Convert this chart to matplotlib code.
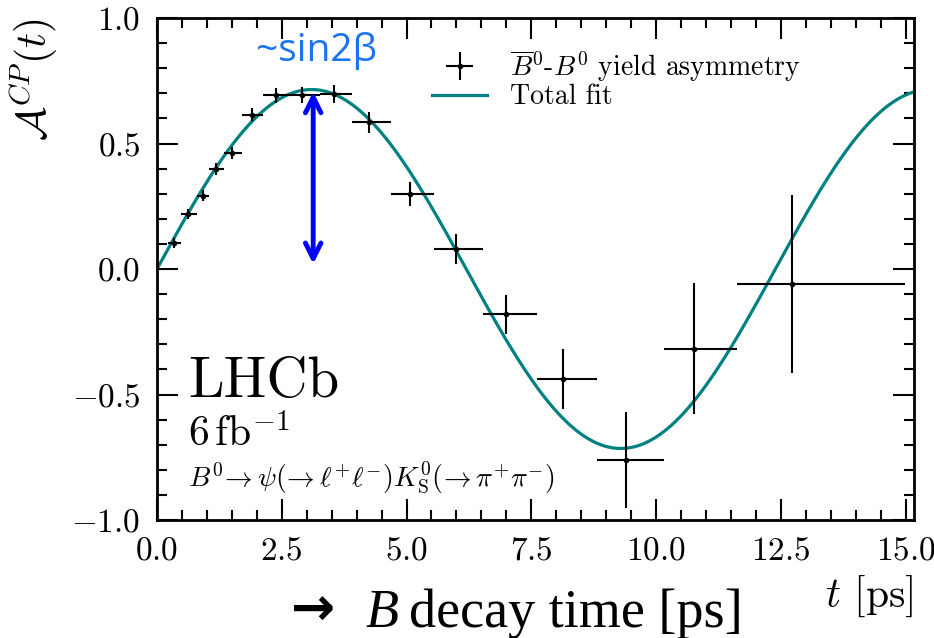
import numpy as np
import matplotlib
matplotlib.use("Agg")
import matplotlib.pyplot as plt
from matplotlib.ticker import MultipleLocator, FormatStrFormatter

# bin centres, bin edges and yield asymmetry
t_mean = [0.35, 0.63, 0.93, 1.18, 1.51, 1.91, 2.38, 2.91, 3.55, 4.25,
          5.07, 5.99, 6.99, 8.14, 9.40, 10.76, 12.73]
t_lo = [0.23, 0.48, 0.80, 1.04, 1.34, 1.70, 2.13, 2.63, 3.27, 3.90,
        4.68, 5.55, 6.53, 7.62, 8.82, 10.16, 11.63]
t_hi = [0.48, 0.80, 1.04, 1.34, 1.70, 2.13, 2.63, 3.27, 3.90, 4.68,
        5.55, 6.53, 7.62, 8.82, 10.16, 11.63, 14.98]
asym = [0.103, 0.218, 0.291, 0.400, 0.463, 0.615, 0.692, 0.694, 0.697, 0.585,
        0.298, 0.079, -0.181, -0.437, -0.761, -0.317, -0.060]
asym_err = [0.020, 0.020, 0.022, 0.024, 0.025, 0.027, 0.030, 0.033, 0.037, 0.042,
            0.047, 0.060, 0.078, 0.120, 0.190, 0.260, 0.355]

# total fit: S * sin(dm * t)
S_FIT = 0.715
DM_FIT = 0.507

plt.rcParams["font.family"] = "serif"
plt.rcParams["font.serif"] = ["cmr10", "DejaVu Serif"]
plt.rcParams["mathtext.fontset"] = "cm"
plt.rcParams["axes.unicode_minus"] = False

fig = plt.figure(figsize=(9.34, 6.38), dpi=100)
ax = fig.add_axes([157/934, 1-520/638, 757/934, 502/638])

tt = np.linspace(0, 15.17, 600)
fit_line, = ax.plot(tt, S_FIT*np.sin(DM_FIT*tt), color="#008080", lw=2.3, zorder=2)

t_mean = np.array(t_mean)
xerr = [t_mean - np.array(t_lo), np.array(t_hi) - t_mean]
data = ax.errorbar(t_mean, asym, xerr=xerr, yerr=asym_err, fmt="o", ms=3.0, color="black",
                   elinewidth=1.5, capsize=0, zorder=3)

ax.set_xlim(0, 15.17)
ax.set_ylim(-1, 1)
ax.xaxis.set_major_locator(MultipleLocator(2.5))
ax.xaxis.set_minor_locator(MultipleLocator(0.5))
ax.yaxis.set_major_locator(MultipleLocator(0.5))
ax.yaxis.set_minor_locator(MultipleLocator(0.1))
ax.xaxis.set_major_formatter(FormatStrFormatter("$%.1f$"))
ax.yaxis.set_major_formatter(FormatStrFormatter("$%.1f$"))
ax.tick_params(which="both", direction="in", top=True, right=True, labelsize=24, width=1.5)
ax.tick_params(which="major", length=15, pad=12)
ax.tick_params(which="minor", length=7)
for sp in ax.spines.values():
    sp.set_linewidth(2)

ax.set_xlabel(r"$t$ [ps]", fontsize=30, loc="right", labelpad=6)
ax.set_ylabel(r"$\mathcal{A}^{CP}(t)$", fontsize=30, loc="top")
ax.yaxis.set_label_coords(-0.128, 1.0)

ax.legend([data, fit_line], [r"$\overline{B}^0$-$B^0$ yield asymmetry", "Total fit"],
          loc="upper left", bbox_to_anchor=(0.363, 0.94), frameon=False, fontsize=20,
          labelspacing=0.0, handlelength=2.0, handletextpad=0.8, borderpad=0, borderaxespad=0)

ax.text(0.041, 0.245, "LHCb", transform=ax.transAxes, fontsize=41, va="baseline")
ax.text(0.041, 0.147, r"$6\,\mathrm{fb}^{-1}$", transform=ax.transAxes, fontsize=30, va="baseline")
ax.text(0.041, 0.066,
        r"$B^{0}\!\rightarrow\psi(\!\rightarrow\ell^{+}\ell^{-})K^{0}_\mathrm{S}(\!\rightarrow\pi^{+}\pi^{-})$",
        transform=ax.transAxes, fontsize=20, va="baseline")

# sin2beta annotation
ax.annotate("", xy=(3.13, 0.706), xytext=(3.13, 0.02),
            arrowprops=dict(arrowstyle="<->", color="#0000ff", lw=3.5, mutation_scale=28,
                            shrinkA=0, shrinkB=0), zorder=4)
ax.text(3.2, 0.83, "~sin2β", color="#1a73f0", fontsize=28, family="Open Sans",
        ha="center", va="baseline")

# caption below the axis
fig.text(291/934, 1-625/638, "→", fontsize=38, family="DejaVu Sans", weight="bold", va="baseline")
fig.text(366/934, 1-627/638, "B", fontsize=39, family="Liberation Serif", style="italic", va="baseline")
fig.text(409/934, 1-627/638, "decay time [ps]", fontsize=39, family="Liberation Serif", va="baseline")

fig.savefig("out.png", dpi=100)
